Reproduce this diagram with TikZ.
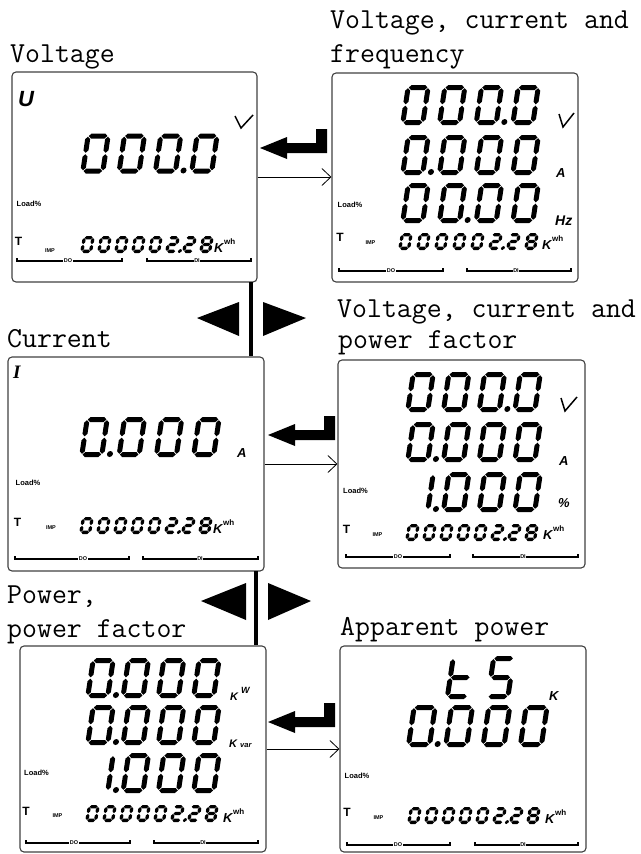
\documentclass[tikz,border=0pt]{standalone}
\usepackage{fontspec}
\newfontfamily\lcdsans{Liberation Sans}
\newfontfamily\lcdserif{Liberation Serif}
\usetikzlibrary{arrows.meta}
\makeatletter
\def\segif#1#2{\edef\sg@tmp{\noexpand\in@{#1}{\dgsegs}}\sg@tmp\ifin@#2\fi}
\makeatother
\expandafter\def\csname sg@0\endcsname{abcdef}
\expandafter\def\csname sg@0p\endcsname{abcdefp}
\expandafter\def\csname sg@1p\endcsname{bcp}
\expandafter\def\csname sg@2\endcsname{abged}
\expandafter\def\csname sg@2p\endcsname{abgedp}
\expandafter\def\csname sg@8\endcsname{abcdefg}
\expandafter\def\csname sg@t\endcsname{fegd}
\expandafter\def\csname sg@S\endcsname{afgcd}
\newcommand\hseg[3]{\fill (#1+\sgG,#3) -- (#1+\sgG+\sgT/2,#3-\sgT/2) -- (#2-\sgG-\sgT/2,#3-\sgT/2) -- (#2-\sgG,#3) -- (#2-\sgG-\sgT/2,#3+\sgT/2) -- (#1+\sgG+\sgT/2,#3+\sgT/2) -- cycle;}
\newcommand\vseg[3]{\fill (#1,#2+\sgG) -- (#1+\sgT/2,#2+\sgG+\sgT/2) -- (#1+\sgT/2,#3-\sgG-\sgT/2) -- (#1,#3-\sgG) -- (#1-\sgT/2,#3-\sgG-\sgT/2) -- (#1-\sgT/2,#2+\sgG+\sgT/2) -- cycle;}
\newcommand\dig[3]{%
  \edef\dgsegs{#3}%
  \begin{scope}[shift={(#1,#2)},xslant=\sgK]
  \pgfmathsetmacro\sgL{\sgT/2}%
  \pgfmathsetmacro\sgR{\sgW-\sgT/2}%
  \pgfmathsetmacro\sgTop{\sgT/2}%
  \pgfmathsetmacro\sgM{\sgH/2}%
  \pgfmathsetmacro\sgB{\sgH-\sgT/2}%
  \segif{a}{\hseg{\sgL}{\sgR}{\sgTop}}%
  \segif{b}{\vseg{\sgR}{\sgTop}{\sgM}}%
  \segif{c}{\vseg{\sgR}{\sgM}{\sgB}}%
  \segif{d}{\hseg{\sgL}{\sgR}{\sgB}}%
  \segif{e}{\vseg{\sgL}{\sgM}{\sgB}}%
  \segif{f}{\vseg{\sgL}{\sgTop}{\sgM}}%
  \segif{g}{\hseg{\sgL}{\sgR}{\sgM}}%
  \segif{p}{\fill (\sgW+\sgP,\sgH-\sgT*0.6) circle[radius=\sgT*0.6];}%
  \end{scope}}
\newcommand\drow[4]{\foreach \c [count=\i from 0] in {#4}{\dig{#1+\i*#3}{#2}{\csname sg@\c\endcsname}}}
\newcommand\bigset{\def\sgW{25}\def\sgH{40}\def\sgT{5}\def\sgG{0.7}\def\sgK{0.15}\def\sgP{5.5}}
\newcommand\smallset{\def\sgW{12}\def\sgH{17}\def\sgT{3.3}\def\sgG{0.4}\def\sgK{0.18}\def\sgP{2.6}}
\newcommand\retarrow[2]{\fill (#1,#2) -- ++(27,-11) -- ++(0,6) -- ++(29,0) -- ++(0,-14) -- ++(11,0) -- ++(0,24) -- ++(-40,0) -- ++(0,6) -- cycle;}
\begin{document}
\begin{tikzpicture}[x=1pt,y=-1pt,
  panel/.style={draw=black!75, line width=1.1pt, rounded corners=4pt, inner sep=0pt},
  ttl/.style={anchor=base west, inner sep=0pt, font=\fontsize{29}{34}\selectfont\ttfamily},
  loadlbl/.style={inner sep=0pt, font=\lcdsans\bfseries\fontsize{7.5}{8}\selectfont},
  tlbl/.style={inner sep=0pt, font=\lcdsans\bfseries\fontsize{12}{12}\selectfont},
  implbl/.style={inner sep=0pt, font=\lcdsans\bfseries\fontsize{5.5}{6}\selectfont},
  dilbl/.style={inner sep=0.6pt, fill=white, font=\lcdsans\bfseries\fontsize{5.5}{6}\selectfont},
  klbl/.style={anchor=base west, inner sep=0pt, font=\lcdsans\bfseries\itshape\fontsize{13}{13}\selectfont},
  whlbl/.style={anchor=base west, inner sep=0pt, font=\lcdsans\bfseries\fontsize{8}{8}\selectfont},
  unitlbl/.style={anchor=base west, inner sep=0pt, font=\lcdsans\bfseries\itshape\fontsize{13}{13}\selectfont},
  dibar/.style={line width=1.3pt},
  vbar/.style={line width=4pt},
  feed/.style={line width=0.8pt, -{Straight Barb[length=9pt,width=17pt]}},
  vlcd/.style={line width=1.5pt}
]
\useasboundingbox (0,0) rectangle (640,854);
% ---------- titles
\node[ttl] (tt1) at (10,62) {Voltage};
\node[ttl] (tt2a) at (330,28) {Voltage, current and};
\node[ttl] (tt2b) at (330,62) {frequency};
\node[ttl] (tt3) at (7,347) {Current};
\node[ttl] (tt4a) at (337,317) {Voltage, current and};
\node[ttl] (tt4b) at (338,348) {power factor};
\node[ttl] (tt5a) at (7,603) {Power,};
\node[ttl] (tt5b) at (7,637) {power factor};
\node[ttl] (tt6) at (340,635) {Apparent power};
% ---------- panels
\node[panel, minimum width=245pt, minimum height=210pt] (p1) at (134.5,177) {};
\node[panel, minimum width=246pt, minimum height=209pt] (p2) at (455,177.5) {};
\node[panel, minimum width=256pt, minimum height=214pt] (p3) at (136,464) {};
\node[panel, minimum width=247pt, minimum height=208pt] (p4) at (461.5,464) {};
\node[panel, minimum width=246pt, minimum height=206pt] (p5) at (143,749) {};
\node[panel, minimum width=246pt, minimum height=206pt] (p6) at (463,749) {};
% ---------- connectors
\draw[feed] (p1.east) -- (p2.west |- p1.east);
\draw[feed] (p3.east) -- (p4.west |- p3.east);
\draw[feed] (p5.east) -- (p6.west |- p5.east);
\coordinate (v1) at (250.5,282);
\draw[vbar] (v1) -- (v1 |- p3.north);
\coordinate (v2) at (255.5,571);
\draw[vbar] (v2) -- (v2 |- p5.north);
\retarrow{260}{148}
\retarrow{268}{435}
\retarrow{268}{722}
\fill (197,318) -- (239,302) -- (239,336) -- cycle;
\fill (263,302) -- (263,336) -- (306,318) -- cycle;
\fill (201,601) -- (246,583) -- (246,620) -- cycle;
\fill (268,583) -- (268,620) -- (311,601) -- cycle;
% ---------- panel 1
\node[anchor=base west, inner sep=0pt, font=\lcdsans\bfseries\itshape\fontsize{22}{22}\selectfont] (u1) at (18,106) {U};
\draw[vlcd] (235,116) -- (241,128) -- (253,115);
\bigset \drow{86}{133.5}{36.3}{0,0,0p,0}
\smallset \drow{83}{236}{17}{0,0,0,0,0,2p,2,8}
\node[loadlbl] (l1) at (29,204) {Load\%};
\node[tlbl] (t1) at (18.5,241) {T};
\node[implbl] (i1) at (50,250.5) {IMP};
\node[klbl] (k1) at (214,252) {K};
\node[whlbl] (w1) at (224,244) {wh};
\draw[dibar] (17,258) -- (17,261) -- (122,261) -- (122,258);
\draw[dibar] (147,258) -- (147,261) -- (251,261) -- (251,258);
\node[dilbl] (do1) at (68,261) {DO};
\node[dilbl] (di1) at (197,261) {DI};
% ---------- panel 2
\draw[vlcd] (559,114) -- (563,127) -- (574,113);
\bigset
\drow{406}{85}{36.7}{0,0,0p,0}
\drow{406}{135}{36.7}{0p,0,0,0}
\drow{406}{183}{36.7}{0,0p,0,0}
\smallset \drow{401}{233}{18}{0,0,0,0,0,2p,2,8}
\node[unitlbl] (a2) at (556,177) {A};
\node[unitlbl, font=\lcdsans\bfseries\itshape\fontsize{14}{14}\selectfont] (h2) at (555,225) {Hz};
\node[loadlbl] (l2) at (350,204.5) {Load\%};
\node[tlbl] (t2) at (340,237.5) {T};
\node[implbl] (i2) at (370.5,242.5) {IMP};
\node[klbl] (k2) at (542,249) {K};
\node[whlbl] (w2) at (552,241) {wh};
\draw[dibar] (339,268) -- (339,271) -- (443,271) -- (443,268);
\draw[dibar] (467,268) -- (467,271) -- (571,271) -- (571,268);
\node[dilbl] (do2) at (391,271) {DO};
\node[dilbl] (di2) at (516,271) {DI};
% ---------- panel 3
\node[anchor=base west, inner sep=0pt, font=\lcdserif\bfseries\itshape\fontsize{19}{19}\selectfont] (u3) at (13,378) {I};
\bigset \drow{85}{417}{37.3}{0p,0,0,0}
\smallset \drow{82}{517}{17}{0,0,0,0,0,2p,2,8}
\node[unitlbl] (a3) at (237,457) {A};
\node[loadlbl] (l3) at (28,483) {Load\%};
\node[tlbl] (t3) at (17.5,522.5) {T};
\node[implbl] (i3) at (51,527.5) {IMP};
\node[klbl] (k3) at (213,533) {K};
\node[whlbl] (w3) at (223,525) {wh};
\draw[dibar] (15,556) -- (15,559) -- (129,559) -- (129,556);
\draw[dibar] (143,556) -- (143,559) -- (258,559) -- (258,556);
\node[dilbl] (do3) at (83,559) {DO};
\node[dilbl] (di3) at (200,559) {DI};
% ---------- panel 4
\draw[vlcd] (561,398) -- (565,411) -- (577,397);
\bigset
\drow{411}{372}{35.7}{0,0,0p,0}
\drow{411}{422}{35.7}{0p,0,0,0}
\drow{411}{472}{35.7}{1p,0,0,0}
\smallset \drow{408}{524}{17}{0,0,0,0,0,2p,2,8}
\node[unitlbl] (a4) at (559,465) {A};
\node[unitlbl] (pc4) at (558,507) {\%};
\node[loadlbl] (l4) at (355.5,490.5) {Load\%};
\node[tlbl] (t4) at (346.5,529) {T};
\node[implbl] (i4) at (377.5,534.5) {IMP};
\node[klbl] (k4) at (543,539) {K};
\node[whlbl] (w4) at (553,531) {wh};
\draw[dibar] (346,554) -- (346,557) -- (450,557) -- (450,554);
\draw[dibar] (473,554) -- (473,557) -- (578,557) -- (578,554);
\node[dilbl] (do4) at (398,557) {DO};
\node[dilbl] (di4) at (523,557) {DI};
% ---------- panel 5
\bigset
\drow{91}{658}{35.3}{0p,0,0,0}
\drow{91}{705}{35.3}{0p,0,0,0}
\drow{91}{753}{35.3}{1p,0,0,0}
\smallset \drow{88}{805}{17}{0,0,0,0,0,2p,2,8}
\node[klbl, font=\lcdsans\bfseries\itshape\fontsize{11}{11}\selectfont] (kw5) at (230,700) {K};
\node[unitlbl, font=\lcdsans\bfseries\itshape\fontsize{9}{9}\selectfont] (w5a) at (241,693) {W};
\node[klbl, font=\lcdsans\bfseries\itshape\fontsize{11}{11}\selectfont] (kv5) at (229,747) {K};
\node[unitlbl, font=\lcdsans\bfseries\itshape\fontsize{7.5}{7.5}\selectfont] (var5) at (240,747) {var};
\node[loadlbl] (l5) at (36.5,772.5) {Load\%};
\node[tlbl] (t5) at (26,811) {T};
\node[implbl] (i5) at (57.5,816) {IMP};
\node[klbl] (k5) at (223,822) {K};
\node[whlbl] (w5) at (233,814) {wh};
\draw[dibar] (26,840) -- (26,843) -- (130,843) -- (130,840);
\draw[dibar] (154,840) -- (154,843) -- (258,843) -- (258,840);
\node[dilbl] (do5) at (74,843) {DO};
\node[dilbl] (di5) at (203,843) {DI};
% ---------- panel 6
\bigset \def\sgH{43}
\dig{451}{656}{\csname sg@t\endcsname}
\dig{491.5}{656}{\csname sg@S\endcsname}
\def\sgH{42}\def\sgW{26}
\drow{412}{705}{37.3}{0p,0,0,0}
\smallset \drow{410}{807}{17}{0,0,0,0,0,2p,2,8}
\node[klbl] (k6a) at (549,700) {K};
\node[loadlbl] (l6) at (357,776) {Load\%};
\node[tlbl] (t6) at (347,812.5) {T};
\node[implbl] (i6) at (378.5,817.5) {IMP};
\node[klbl] (k6) at (545,823) {K};
\node[whlbl] (w6) at (555,815) {wh};
\draw[dibar] (347,842) -- (347,845) -- (450,845) -- (450,842);
\draw[dibar] (475,842) -- (475,845) -- (578,845) -- (578,842);
\node[dilbl] (do6) at (398,845) {DO};
\node[dilbl] (di6) at (523,845) {DI};
\end{tikzpicture}
\end{document}
